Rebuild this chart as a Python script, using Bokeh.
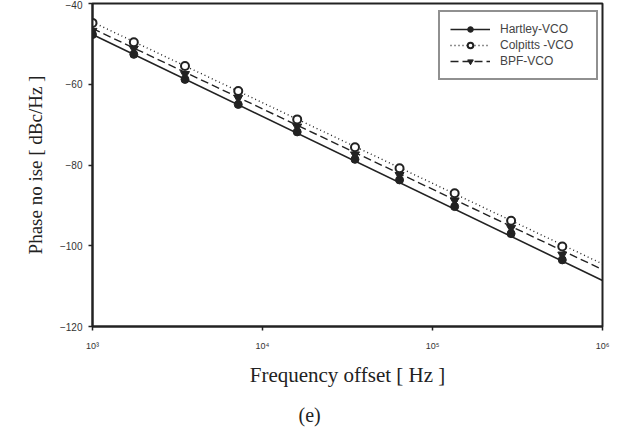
from bokeh.plotting import figure
from bokeh.models import (Range1d, LogTicker, CustomJSTickFormatter, Legend, LegendItem, Title)
from bokeh.embed import file_html
from bokeh.resources import INLINE

# ---- data ----
freq = [1.0e3, 1.75e3, 3.5e3, 7.2e3, 1.6e4, 3.5e4, 6.4e4, 1.35e5, 2.9e5, 5.8e5]
hartley = [-47.7, -52.6, -58.8, -65.0, -71.8, -78.6, -83.7, -90.3, -97.0, -103.5]
colpitts = [-44.8, -49.6, -55.5, -61.7, -68.7, -75.6, -80.8, -87.0, -93.8, -100.2]
bpf = [-46.8, -51.2, -57.5, -63.4, -70.5, -77.4, -82.5, -88.8, -95.6, -102.2]

# fitted trend lines (end points at the axis limits)
fit_freq = [1.0e3, 1.0e6]
hartley_fit = [-47.7, -108.6]
colpitts_fit = [-44.6, -104.5]
bpf_fit = [-46.2, -105.9]

labels = ["Hartley-VCO", "Colpitts -VCO", "BPF-VCO"]
x_title = "Frequency offset [ Hz ]"
y_title = "Phase no ise [ dBc/Hz ]"
caption = "(e)"

p = figure(width=620, height=438, x_axis_type="log",
           x_range=Range1d(1e3, 1e6), y_range=Range1d(-120, -40),
           output_backend="svg", toolbar_location=None,
           min_border_left=92, min_border_right=18,
           min_border_top=3, min_border_bottom=112)
p.background_fill_color = "white"
p.border_fill_color = "white"
p.xgrid.grid_line_color = None
p.ygrid.grid_line_color = None
p.outline_line_color = "#222222"
p.outline_line_width = 2

ink = "#222222"
# lines
lh = p.line(fit_freq, hartley_fit, line_color=ink, line_width=1.6)
lc = p.line(fit_freq, colpitts_fit, line_color=ink, line_width=1.4, line_dash="1 3")
lb = p.line(fit_freq, bpf_fit, line_color=ink, line_width=1.4, line_dash="8 4")
# markers
mh = p.scatter(freq, hartley, marker="circle", size=8, fill_color=ink, line_color=ink)
mb = p.scatter(freq, bpf, marker="inverted_triangle", size=9, fill_color=ink, line_color=ink)
mc = p.scatter(freq, colpitts, marker="circle", size=8, fill_color="white", line_color=ink, line_width=2)

# axes
p.xaxis.ticker = LogTicker(desired_num_ticks=4)
p.xaxis.formatter = CustomJSTickFormatter(code="""
const sup = {'0':'\u2070','1':'\u00b9','2':'\u00b2','3':'\u00b3','4':'\u2074','5':'\u2075','6':'\u2076','7':'\u2077','8':'\u2078','9':'\u2079'};
const e = String(Math.round(Math.log10(tick)));
return '10' + e.split('').map(c => sup[c]).join('');
""")
p.yaxis.ticker = [-120, -100, -80, -60, -40]
for ax in (p.xaxis[0], p.yaxis[0]):
    ax.axis_line_color = "#222222"
    ax.axis_line_width = 2
    ax.major_tick_line_color = "#222222"
    ax.major_tick_line_width = 1.5
    ax.major_tick_out = 4
    ax.major_tick_in = 0
    ax.minor_tick_line_color = None
    ax.major_label_text_font = "Liberation Sans"
    ax.major_label_text_color = "#333333"
    ax.axis_label_text_font = "Liberation Serif"
    ax.axis_label_text_font_style = "normal"
    ax.axis_label_text_color = "#222222"

p.xaxis.axis_label_text_font_size = "21px"
p.yaxis.axis_label_text_font_size = "19px"
p.xaxis.major_label_text_font_size = "9px"
p.yaxis.major_label_text_font_size = "10px"
p.xaxis.major_label_standoff = 10
p.yaxis.major_label_standoff = 6
p.xaxis.axis_label = x_title
p.yaxis.axis_label = y_title
p.xaxis.axis_label_standoff = 9
p.yaxis.axis_label_standoff = 11

legend = Legend(items=[
    LegendItem(label=labels[0], renderers=[lh, mh]),
    LegendItem(label=labels[1], renderers=[lc, mc]),
    LegendItem(label=labels[2], renderers=[lb, mb]),
], location=(346, 246))
legend.border_line_color = "#222222"
legend.border_line_width = 2
legend.background_fill_color = "white"
legend.label_text_font = "Liberation Sans"
legend.label_text_font_size = "12px"
legend.label_text_color = "#444444"
legend.glyph_width = 40
legend.glyph_height = 14
legend.label_standoff = 10
legend.label_width = 86
legend.spacing = 2
legend.padding = 10
legend.margin = 0
p.add_layout(legend, "center")

# caption below the chart
cap = Title(text=caption, align="left", offset=206, standoff=25,
            text_font="Liberation Serif", text_font_size="20px",
            text_font_style="normal", text_color="#222222")
p.add_layout(cap, "below")

open("out.html", "w").write(file_html(p, INLINE))
